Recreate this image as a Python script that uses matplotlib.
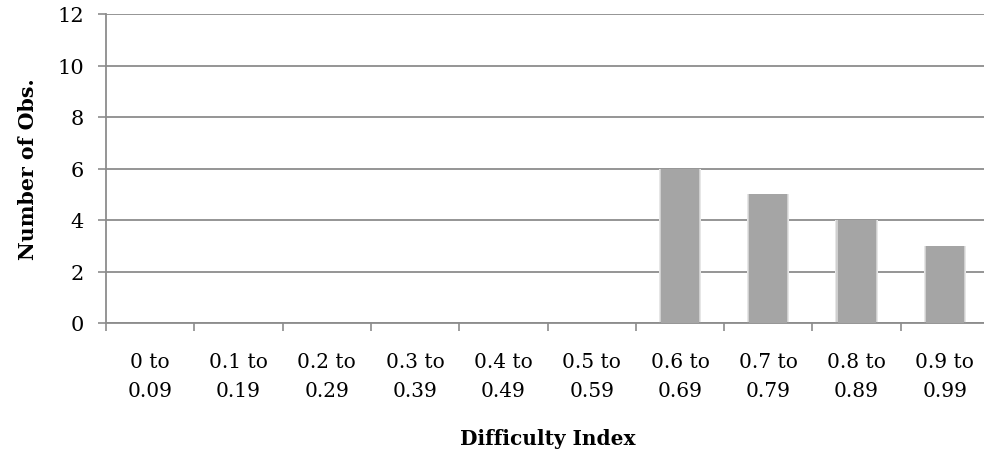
import matplotlib.pyplot as plt
import numpy as np

# --- data ---
categories = ['0 to\n0.09', '0.1 to\n0.19', '0.2 to\n0.29', '0.3 to\n0.39', '0.4 to\n0.49',
              '0.5 to\n0.59', '0.6 to\n0.69', '0.7 to\n0.79', '0.8 to\n0.89', '0.9 to\n0.99']
counts = [0, 0, 0, 0, 0, 0, 6, 5, 4, 3]
y_ticks = [0, 2, 4, 6, 8, 10, 12]

plt.rcParams['font.family'] = ['DejaVu Serif']
GRID = '#8c8c8c'
BAR = '#a5a5a5'

fig = plt.figure(figsize=(9.84, 4.56), dpi=100)
ax = fig.add_axes([106 / 984, 132 / 456, 883 / 984, 309 / 456])

x = np.arange(len(categories))

# faint halo to mimic the soft shadow around each bar
ax.bar(x, counts, width=0.48, color='#e6e6e6', zorder=2)
ax.bar(x, counts, width=0.455, color='#cfcfcf', zorder=2)
ax.bar(x, counts, width=0.43, color=BAR, zorder=3)

ax.set_xlim(-0.5, len(categories) - 0.5)
ax.set_ylim(0, 12)
ax.set_yticks(y_ticks)
ax.yaxis.grid(True, color=GRID, lw=1.3)
ax.set_axisbelow(True)

# category boundaries as ticks
ax.set_xticks(np.arange(len(categories) + 1) - 0.5)
ax.set_xticklabels([])
ax.set_xticks(x, minor=True)
ax.set_xticklabels(categories, minor=True, fontsize=14.5, linespacing=1.65)
ax.tick_params(axis='x', which='minor', length=0, pad=21)
ax.tick_params(axis='x', which='major', length=6, width=1.2, color=GRID, direction='out')
ax.tick_params(axis='y', length=6, width=1.2, color=GRID, labelsize=15, pad=10)

for s in ['top', 'right']:
    ax.spines[s].set_visible(False)
for s in ['left', 'bottom']:
    ax.spines[s].set_color(GRID)
    ax.spines[s].set_linewidth(1.3)

ax.set_xlabel('Difficulty Index', fontsize=14.5, fontweight='bold', labelpad=20)
ax.set_ylabel('Number of Obs.', fontsize=14.8, fontweight='bold', labelpad=14)

fig.savefig('out.png', dpi=100)
